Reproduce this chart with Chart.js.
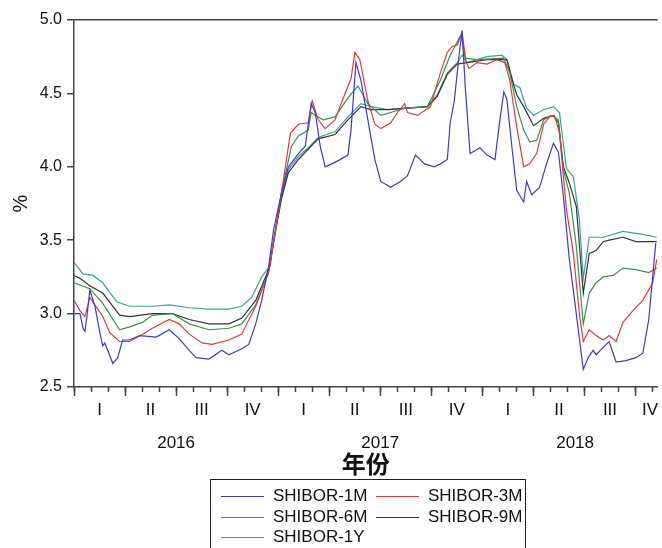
<!DOCTYPE html>
<html>
<head>
<meta charset="utf-8">
<title>SHIBOR</title>
<script src="https://cdn.jsdelivr.net/npm/chart.js@4.4.1/dist/chart.umd.min.js"></script>
<style>
  body { margin: 0; background: #fff; }
  #wrap { position: relative; width: 662px; height: 548px; overflow: hidden; }
  #legend {
    position: absolute; left: 210px; top: 479px; width: 316px; height: 90px;
    border: 1.5px solid #222; box-sizing: border-box;
    font-family: "Liberation Sans", Arial, sans-serif; font-size: 17px; color: #111;
  }
  .item { position: absolute; height: 20px; line-height: 20px; white-space: nowrap; }
  .item span.line { position: absolute; left: 0; top: 10px; width: 43px; height: 0; border-top: 1.5px solid; }
  .item span.text { position: absolute; left: 52px; top: 0; }
</style>
</head>
<body>
<div id="wrap">
  <canvas id="chart" width="662" height="548"></canvas>
  <div id="legend"></div>
</div>
<script>
// x = months since Jan 2016, y = rate in %
const shibor1M = [
  [0, 3.00], [0.35, 3.00], [0.53, 2.90], [0.64, 2.88], [0.76, 2.98], [0.93, 3.16], [1.23, 3.05],
  [1.52, 2.87], [1.69, 2.78], [1.81, 2.80], [1.98, 2.75], [2.28, 2.66], [2.57, 2.70], [2.86, 2.82],
  [3.27, 2.82], [3.85, 2.85], [4.84, 2.84], [5.60, 2.89], [6.18, 2.83], [6.77, 2.75], [7.18, 2.70],
  [7.93, 2.69], [8.69, 2.75], [9.10, 2.72], [9.86, 2.76], [10.27, 2.79], [10.68, 2.93], [11.03, 3.09],
  [11.44, 3.32], [11.73, 3.57], [12.19, 3.82], [12.60, 4.00], [13.19, 4.09], [13.59, 4.14], [13.94, 4.43],
  [14.18, 4.37], [14.47, 4.14], [14.76, 4.00], [15.34, 4.03], [16.10, 4.08], [16.28, 4.25], [16.57, 4.71],
  [16.86, 4.59], [17.27, 4.32], [17.68, 4.05], [18.03, 3.90], [18.61, 3.86], [19.19, 3.90], [19.60, 3.94],
  [20.07, 4.08], [20.60, 4.02], [21.18, 4.00], [21.53, 4.02], [21.94, 4.05], [22.11, 4.30], [22.35, 4.45],
  [22.64, 4.77], [22.81, 4.93], [22.99, 4.55], [23.22, 4.18], [23.28, 4.09], [23.86, 4.13], [24.27, 4.08],
  [24.74, 4.05], [25.03, 4.32], [25.26, 4.51], [25.44, 4.46], [25.73, 4.14], [26.02, 3.84], [26.43, 3.76],
  [26.60, 3.90], [26.90, 3.81], [27.36, 3.86], [27.77, 4.02], [28.18, 4.16], [28.47, 4.10], [28.76, 3.80],
  [29.11, 3.37], [29.52, 3.00], [29.93, 2.62], [30.22, 2.70], [30.51, 2.75], [30.69, 2.72], [31.10, 2.77],
  [31.45, 2.81], [31.86, 2.67], [32.44, 2.68], [33.02, 2.70], [33.43, 2.73], [33.78, 2.96], [34.19, 3.48]
];
const shibor3M = [
  [0, 3.09], [0.35, 3.02], [0.64, 2.98], [0.93, 3.11], [1.69, 2.98], [2.10, 2.87], [2.68, 2.81],
  [3.27, 2.81], [4.03, 2.86], [4.61, 2.90], [5.60, 2.96], [6.18, 2.93], [6.77, 2.86], [7.53, 2.80],
  [8.11, 2.79], [9.10, 2.82], [9.86, 2.86], [10.68, 3.05], [11.44, 3.28], [12.19, 3.82], [12.72, 4.23],
  [13.19, 4.29], [13.77, 4.30], [14.00, 4.45], [14.35, 4.32], [14.76, 4.26], [15.34, 4.32], [15.93, 4.50],
  [16.28, 4.60], [16.51, 4.78], [16.80, 4.73], [17.27, 4.45], [17.68, 4.29], [18.03, 4.26], [18.61, 4.30],
  [19.02, 4.37], [19.43, 4.43], [19.60, 4.37], [20.19, 4.35], [20.95, 4.41], [21.53, 4.64], [21.94, 4.78],
  [22.23, 4.82], [22.52, 4.83], [22.81, 4.91], [23.05, 4.71], [23.22, 4.67], [23.69, 4.71], [24.27, 4.70],
  [24.85, 4.73], [25.32, 4.71], [25.61, 4.59], [26.02, 4.27], [26.43, 4.00], [26.78, 4.02], [27.19, 4.09],
  [27.60, 4.29], [27.95, 4.34], [28.24, 4.35], [28.53, 4.23], [28.94, 3.71], [29.35, 3.41], [29.70, 3.00],
  [29.93, 2.81], [30.28, 2.89], [30.69, 2.85], [31.10, 2.82], [31.45, 2.85], [31.86, 2.81], [32.26, 2.94],
  [32.85, 3.02], [33.43, 3.09], [34.01, 3.21], [34.25, 3.37]
];
const shibor6M = [
  [0, 3.21], [0.93, 3.17], [1.69, 3.07], [2.68, 2.89], [3.27, 2.91], [4.03, 2.94], [4.61, 2.99],
  [5.78, 3.00], [6.77, 2.93], [7.93, 2.89], [9.10, 2.90], [9.86, 2.93], [10.68, 3.06], [11.44, 3.28],
  [12.19, 3.82], [12.78, 4.14], [13.19, 4.21], [13.77, 4.25], [13.94, 4.37], [14.18, 4.35], [14.64, 4.32],
  [15.34, 4.34], [16.10, 4.47], [16.69, 4.55], [17.27, 4.43], [18.03, 4.35], [18.61, 4.37], [19.43, 4.40],
  [20.77, 4.41], [21.53, 4.59], [22.11, 4.76], [22.75, 4.90], [22.99, 4.74], [23.69, 4.73], [25.26, 4.74],
  [25.61, 4.64], [26.02, 4.41], [26.43, 4.25], [26.78, 4.17], [27.19, 4.18], [27.60, 4.32], [28.06, 4.35],
  [28.47, 4.32], [28.76, 3.98], [29.11, 3.82], [29.52, 3.46], [29.93, 2.93], [30.28, 3.14], [30.69, 3.21],
  [31.10, 3.25], [31.68, 3.26], [32.26, 3.31], [33.02, 3.30], [33.78, 3.28], [34.25, 3.31]
];
const shibor9M = [
  [0, 3.26], [0.35, 3.24], [0.93, 3.19], [1.69, 3.14], [2.68, 2.99], [3.27, 2.98], [4.61, 3.00],
  [5.78, 3.00], [6.77, 2.96], [7.93, 2.93], [9.10, 2.93], [9.86, 2.97], [10.68, 3.09], [11.44, 3.30],
  [12.19, 3.78], [12.60, 3.96], [13.19, 4.05], [13.77, 4.12], [14.35, 4.19], [15.34, 4.22], [16.10, 4.32],
  [16.86, 4.41], [17.44, 4.39], [18.44, 4.39], [19.60, 4.40], [20.77, 4.41], [21.35, 4.48], [21.94, 4.63],
  [22.52, 4.70], [23.10, 4.71], [24.27, 4.73], [25.44, 4.73], [25.73, 4.60], [26.02, 4.49], [26.43, 4.41],
  [27.01, 4.28], [27.60, 4.33], [28.18, 4.35], [28.47, 4.30], [28.76, 4.00], [29.11, 3.89], [29.52, 3.73],
  [29.93, 3.14], [30.28, 3.41], [30.69, 3.43], [31.10, 3.49], [31.45, 3.50], [32.26, 3.52], [33.02, 3.49],
  [34.25, 3.49]
];
const shibor1Y = [
  [0, 3.35], [0.53, 3.27], [1.11, 3.26], [1.69, 3.21], [2.51, 3.08], [3.27, 3.05], [4.61, 3.05],
  [5.60, 3.06], [6.77, 3.04], [7.93, 3.03], [9.10, 3.03], [9.86, 3.05], [10.44, 3.11], [11.03, 3.25],
  [11.55, 3.33], [11.73, 3.50], [12.19, 3.80], [12.60, 3.98], [13.19, 4.07], [13.77, 4.13], [14.35, 4.20],
  [15.34, 4.24], [16.10, 4.34], [16.86, 4.43], [17.44, 4.41], [18.44, 4.39], [19.60, 4.40], [20.77, 4.41],
  [21.35, 4.49], [21.94, 4.64], [22.52, 4.71], [22.81, 4.76], [23.10, 4.71], [24.27, 4.75], [25.15, 4.76],
  [25.44, 4.73], [25.85, 4.56], [26.20, 4.54], [26.60, 4.40], [27.01, 4.35], [27.60, 4.39], [28.18, 4.41],
  [28.53, 4.37], [28.94, 3.99], [29.35, 3.93], [29.70, 3.64], [29.93, 3.24], [30.28, 3.52], [31.10, 3.52],
  [32.26, 3.56], [33.43, 3.54], [34.25, 3.52]
];

const seriesNames = ['SHIBOR-1M', 'SHIBOR-3M', 'SHIBOR-6M', 'SHIBOR-9M', 'SHIBOR-1Y'];
const seriesColors = ['#3c3cc8', '#e0393b', '#3d8f4f', '#333333', '#3f9e9a'];

const yTicks = [2.5, 3.0, 3.5, 4.0, 4.5, 5.0];
const quarterStarts = [0, 3, 6, 9, 12, 15, 18, 21, 24, 27, 30, 33];
const quarterCenters = [1.5, 4.5, 7.5, 10.5, 13.5, 16.5, 19.5, 22.5, 25.5, 28.5, 31.5, 33.85];
const quarterLabels = ['I', 'II', 'III', 'IV', 'I', 'II', 'III', 'IV', 'I', 'II', 'III', 'IV'];
const monthTicks = Array.from({ length: 35 }, (_, i) => i);
const yearTicks = [6, 18, 29.45];
const yearLabels = ['2016', '2017', '2018'];

const xMax = 34.3;
const fontFamily = '"Liberation Sans", Arial, "Noto Sans CJK SC", sans-serif';
const axisColor = '#444';

const allSeries = [shibor1M, shibor3M, shibor6M, shibor9M, shibor1Y];

const datasets = allSeries.map((s, i) => ({
    label: seriesNames[i],
    data: s.map(p => ({ x: p[0], y: p[1] })),
    borderColor: seriesColors[i],
    borderWidth: 1.2,
    pointRadius: 0,
    fill: false,
    tension: 0
}));

const mainTicks = quarterStarts.concat(quarterCenters).sort((a, b) => a - b);

const chart = new Chart(document.getElementById('chart'), {
    type: 'line',
    data: { datasets },
    options: {
        responsive: false,
        animation: false,
        layout: { padding: { top: 20, right: 0, bottom: 70, left: 0 } },
        plugins: { legend: { display: false }, tooltip: { enabled: false } },
        scales: {
            x: {
                type: 'linear', position: 'bottom', weight: 0,
                min: 0, max: xMax,
                afterBuildTicks: axis => { axis.ticks = mainTicks.map(v => ({ value: v })); },
                afterFit: axis => { axis.height = 33; },
                grid: {
                    display: true, drawOnChartArea: false, drawTicks: true, tickLength: 9, tickWidth: 1.5,
                    tickColor: c => Number.isInteger(c.tick.value) ? axisColor : 'rgba(0,0,0,0)'
                },
                border: { display: true, color: axisColor, width: 1.5 },
                ticks: {
                    autoSkip: false, maxRotation: 0, minRotation: 0, padding: 4, color: '#111',
                    font: { family: fontFamily, size: 17 },
                    callback: v => {
                        const i = quarterCenters.indexOf(v);
                        return i >= 0 ? quarterLabels[i] : '';
                    }
                }
            },
            xYear: {
                type: 'linear', position: 'bottom', weight: 1,
                min: 0, max: xMax,
                afterBuildTicks: axis => { axis.ticks = yearTicks.map(v => ({ value: v })); },
                afterFit: axis => { axis.height = 58; },
                grid: { display: false, drawTicks: false },
                border: { display: false },
                ticks: {
                    autoSkip: false, maxRotation: 0, minRotation: 0, padding: 13, color: '#111',
                    font: { family: fontFamily, size: 17 },
                    callback: v => {
                        const i = yearTicks.indexOf(v);
                        return i >= 0 ? yearLabels[i] : '';
                    }
                },
                title: {
                    display: true, text: '年份', color: '#111', padding: { top: 0, bottom: 0 },
                    font: { family: '"Noto Sans CJK SC", sans-serif', size: 24, weight: 'bold' }
                }
            },
            xMinor: {
                type: 'linear', position: { y: 2.5 },
                min: 0, max: xMax,
                afterBuildTicks: axis => { axis.ticks = monthTicks.map(v => ({ value: v })); },
                grid: { drawOnChartArea: false, drawTicks: true, tickLength: 5, tickWidth: 1.5, tickColor: axisColor },
                border: { display: false },
                ticks: { display: false, autoSkip: false }
            },
            y: {
                type: 'linear', position: 'left',
                min: 2.5, max: 5.0,
                afterBuildTicks: axis => { axis.ticks = yTicks.map(v => ({ value: v })); },
                afterFit: axis => { axis.width = 74; },
                grid: {
                    drawOnChartArea: true, tickLength: 7, tickWidth: 1.5, tickColor: axisColor, lineWidth: 1.5,
                    color: c => c.tick && c.tick.value === 5 ? axisColor : 'rgba(0,0,0,0)'
                },
                border: { display: true, color: axisColor, width: 1.5 },
                ticks: {
                    padding: 5, color: '#111',
                    font: { family: fontFamily, size: 16 },
                    callback: v => v.toFixed(1)
                },
                title: {
                    display: true, text: '%', color: '#111', padding: { top: 9, bottom: 0 },
                    font: { family: fontFamily, size: 20 }
                }
            }
        }
    }
});

// legend box, two columns, built from the datasets
const legend = document.getElementById('legend');
chart.data.datasets.forEach((ds, i) => {
    const item = document.createElement('div');
    item.className = 'item';
    item.style.left = (i % 2 === 0 ? 10 : 165) + 'px';
    item.style.top = (6 + Math.floor(i / 2) * 20.5) + 'px';
    const line = document.createElement('span');
    line.className = 'line';
    line.style.borderTopColor = ds.borderColor;
    const text = document.createElement('span');
    text.className = 'text';
    text.innerText = ds.label;
    item.appendChild(line);
    item.appendChild(text);
    legend.appendChild(item);
});
</script>
</body>
</html>
